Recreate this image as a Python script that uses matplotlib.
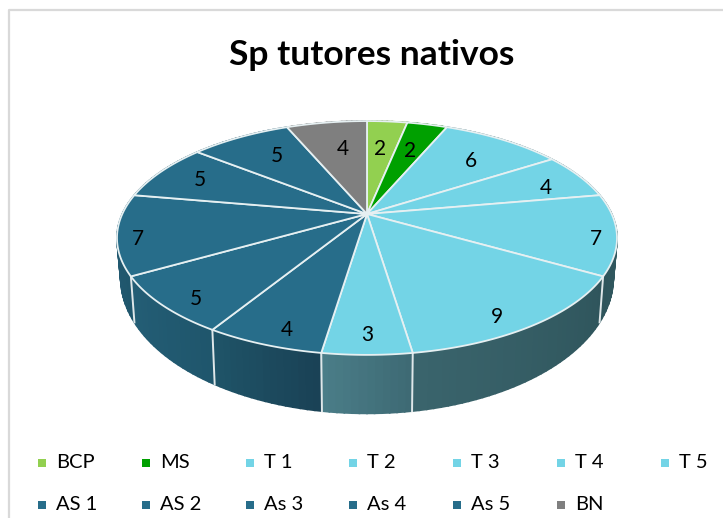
"""
Sp tutores nativos - Excel style 3D pie, drawn as a projected disc
"""

import numpy as np
import matplotlib
matplotlib.use('Agg')
import matplotlib.pyplot as plt
from matplotlib.patches import Polygon, Rectangle
from matplotlib.colors import to_rgb

plt.rcParams['font.family'] = ['Lato', 'DejaVu Sans']

labels = ['BCP', 'MS', 'T 1', 'T 2', 'T 3', 'T 4', 'T 5',
          'AS 1', 'AS 2', 'As 3', 'As 4', 'As 5', 'BN']
values = [2, 2, 6, 4, 7, 9, 3, 4, 5, 7, 5, 5, 4]

green_light = '#92d050'
green = '#00a000'
blue_light = '#73d4e6'
blue_dark = '#276d8a'
grey = '#7f7f7f'
colors = [green_light, green] + [blue_light] * 5 + [blue_dark] * 5 + [grey]

# side wall gradient of every slice, start and end colour going clockwise
side_from = ['#5c8a32', '#006400', '#3f6a72', '#3f6a72', '#345c64', '#2f555c', '#3e6a74',
             '#1a4256', '#1f566c', '#1f566c', '#184a5e', '#184a5e', '#4f4f4f']
side_to = ['#5c8a32', '#006400', '#3f6a72', '#3f6a72', '#2f555c', '#3a646c', '#4a7d88',
           '#1f5468', '#245e76', '#265e78', '#184a5e', '#184a5e', '#4f4f4f']

# how far out along the slice the number sits, and how far it slips from the middle (degrees)
label_r = [.67, .68, .71, .81, .92, .89, .88, .89, .89, .92, .80, .72, .68]
label_shift = [-0.7, 0, 1.4, 3.3, 3, 4, 0, -2.3, -2.9, -3, 0, 2, 2]

# projection of the disc, in pixels
cx, cy = 367, 214
rx, ry = 244.7, 112
persp = 0.205
base_scale_x = 0.985
base_scale_y = 1.16
base_drop = 36


def top_xy(theta, r=1.0):
    u = r * np.sin(theta)
    v = r * np.cos(theta)
    k = 1 + persp * v
    return cx + rx * u / k, cy - ry * v / k


def base_xy(theta):
    x, y = top_xy(theta)
    return cx + base_scale_x * (x - cx), cy + base_drop + base_scale_y * (y - cy)


fig = plt.figure(figsize=(7.23, 5.18), dpi=100)
ax = fig.add_axes([0, 0, 1, 1])
ax.set_xlim(0, 723)
ax.set_ylim(518, 0)
ax.axis('off')

# chart frame, only the top and left show in the crop
ax.plot([8.5, 8.5, 723], [518, 9.5, 9.5], color='#d9d9d9', lw=1.6)

ax.text(372, 55, 'Sp tutores nativos', ha='center', va='center',
        fontsize=25.5, fontweight='bold', color='black')

edges = np.cumsum([0] + values) / sum(values) * 2 * np.pi

# side walls, made of thin strips for the gradient
strips = []
for i in range(len(values)):
    steps = max(values[i] * 4, 8)
    t = np.linspace(edges[i], edges[i + 1], steps + 1)
    c0 = np.array(to_rgb(side_from[i]))
    c1 = np.array(to_rgb(side_to[i]))
    for j in range(steps):
        f = j / (steps - 1)
        strips.append((np.cos(t[j]), t[j], t[j + 1], c0 + (c1 - c0) * f))
strips.sort(key=lambda s: -s[0])
for _, a, b, col in strips:
    xa, ya = top_xy(a)
    xb, yb = top_xy(b)
    xc, yc = base_xy(b)
    xd, yd = base_xy(a)
    ax.add_patch(Polygon([[xa, ya], [xb, yb], [xc, yc], [xd, yd]], closed=True,
                         facecolor=col, edgecolor=col, lw=1.2, zorder=2))

# white seams between the walls
for e in edges:
    if np.cos(e) < -0.05 or abs(np.sin(e)) > 0.99:
        xa, ya = top_xy(e)
        xb, yb = base_xy(e)
        ax.plot([xa, xb], [ya, yb], color='#dfe7e9', lw=1.4, zorder=3)

# top faces
for i in range(len(values)):
    t = np.linspace(edges[i], edges[i + 1], 60)
    x, y = top_xy(t)
    pts = np.column_stack([np.r_[cx, x], np.r_[cy, y]])
    ax.add_patch(Polygon(pts, closed=True, facecolor=colors[i], edgecolor='#e6f0f2',
                         lw=1.3, joinstyle='round', zorder=4))

# numbers on the slices
for i in range(len(values)):
    mid = (edges[i] + edges[i + 1]) / 2 + np.radians(label_shift[i])
    x, y = top_xy(mid, label_r[i])
    ax.text(x, y + 1, str(values[i]), ha='center', va='center', fontsize=15, color='black', zorder=5)

# legend, equal width columns in two rows
legend_x = 42
legend_step = 103.8
legend_rows = [463, 505]
for i, name in enumerate(labels):
    row = 0 if i < 7 else 1
    col = i if i < 7 else i - 7
    x = legend_x + col * legend_step
    y = legend_rows[row]
    ax.add_patch(Rectangle((x - 4, y - 4), 8, 8, facecolor=colors[i], edgecolor='none'))
    ax.text(x + 14, y, name, ha='left', va='center', fontsize=14.5, color='black')

fig.savefig('out.png', dpi=100)
